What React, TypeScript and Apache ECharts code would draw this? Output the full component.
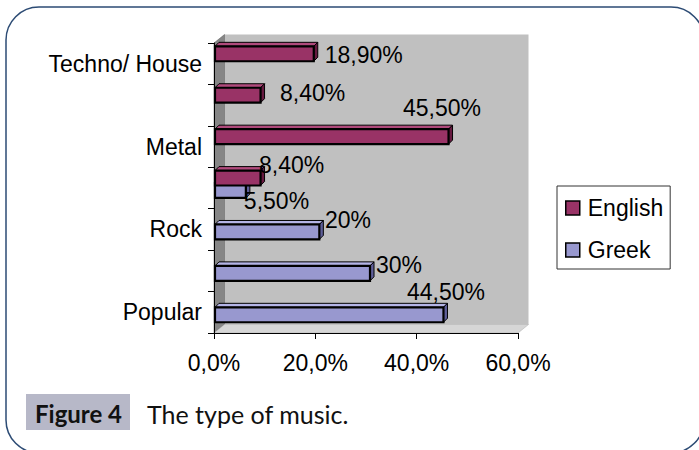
import React, { useEffect, useRef } from "react";
import * as echarts from "echarts";

// ---- data ----
const CATEGORIES = ["Popular", "Entechno", "Rock", "Hip Hop", "Metal", "Pop", "Techno/ House"];
const GREEK = [44.5, 30, 20, 5.5, null, null, null];
const ENGLISH = [null, null, null, 8.4, 45.5, 8.4, 18.9];
const X_TICKS = [0, 20, 40, 60];

// ---- layout / style ----
const G_LEFT = 214;
const G_TOP = 43;
const G_W = 304;
const G_H = 290;
const WALL_DX = 10.5;
const WALL_DY = -8.5;
const BAR_DEPTH = 4;
const COLORS = { Greek: "#9898cf", English: "#993366" };
const TOPS = { Greek: "#b4b4e6", English: "#b04a7c" };
const SIDES = { Greek: "#5e5e99", English: "#66193f" };
// top of bar relative to band centre (fraction of band), bar height fraction
const BAR_TOP_FRAC = { Greek: -0.12, English: -0.42 };
const BAR_H_FRAC = 0.36;
// label offsets [dx from bar end, dy from band centre]
const GREEK_LABEL_OFFSETS = [[-36.5, -20], [6, -6], [5.7, -9.5], [-2, 12.5], [0, 0], [0, 0], [0, 0]];
const ENGLISH_LABEL_OFFSETS = [[0, 0], [0, 0], [0, 0], [-1.6, -23.5], [-45.5, -38.5], [19.5, -12], [11, -8.5]];
const CHART_FONT = "Liberation Sans";

function fmtLabel(v: number) {
  if (Number.isInteger(v)) return `${v}%`;
  return v.toFixed(2).replace(".", ",") + "%";
}

function makeSeries(name: "Greek" | "English", values: (number | null)[], offsets: number[][]) {
  const data: number[][] = [];
  values.forEach((v, i) => {
    if (v !== null) data.push([i, v]);
  });
  return {
    type: "custom",
    name,
    clip: false,
    encode: { x: 1, y: 0 },
    itemStyle: { color: COLORS[name], borderColor: "#000", borderWidth: 1.5 },
    data,
    z: 5,
    renderItem: (params: any, api: any) => {
      const cat = api.value(0);
      const v = api.value(1);
      const p0 = api.coord([0, cat]);
      const p1 = api.coord([v, cat]);
      const band = api.size([0, 1])[1];
      const c = p0[1];
      const top = c + BAR_TOP_FRAC[name] * band;
      const h = BAR_H_FRAC * band;
      const x0 = p0[0] + 1;
      const x1 = p1[0] + 4;
      const D = BAR_DEPTH;
      const off = offsets[cat] || [0, 0];
      return {
        type: "group",
        children: [
          {
            type: "polygon",
            shape: { points: [[x0, top], [x0 + D, top - D], [x1 + D, top - D], [x1, top]] },
            style: { fill: TOPS[name], stroke: "#000", lineWidth: 1 },
          },
          {
            type: "polygon",
            shape: { points: [[x1, top], [x1 + D, top - D], [x1 + D, top + h - D], [x1, top + h]] },
            style: { fill: SIDES[name], stroke: "#000", lineWidth: 1 },
          },
          {
            type: "rect",
            shape: { x: x0, y: top, width: x1 - x0, height: h },
            style: { fill: COLORS[name], stroke: "#000", lineWidth: 2.2 },
          },
          {
            type: "text",
            x: x1 + off[0],
            y: c + off[1],
            style: {
              text: fmtLabel(v),
              fill: "#000",
              fontSize: 23,
              fontFamily: CHART_FONT,
              textAlign: "left",
              textVerticalAlign: "middle",
            },
          },
        ],
      };
    },
  };
}

export default function App() {
  const ref = useRef<HTMLDivElement>(null);
  useEffect(() => {
    if (!ref.current) return;
    const chart = echarts.init(ref.current, undefined, { renderer: "svg" });
    const R = G_LEFT + G_W;
    const B = G_TOP + G_H;
    const option: any = {
      animation: false,
      backgroundColor: "#fff",
      textStyle: { fontFamily: CHART_FONT },
      grid: { left: G_LEFT, top: G_TOP, width: G_W, height: G_H, containLabel: false },
      xAxis: {
        type: "value",
        min: X_TICKS[0],
        max: X_TICKS[X_TICKS.length - 1],
        interval: X_TICKS[1] - X_TICKS[0],
        axisLine: { show: true, lineStyle: { color: "#000", width: 1 } },
        axisTick: { show: true, length: 6, lineStyle: { color: "#000" } },
        splitLine: { show: false },
        axisLabel: {
          color: "#000",
          fontSize: 23,
          fontFamily: CHART_FONT,
          margin: 18,
          formatter: (v: number) => v.toFixed(1).replace(".", ",") + "%",
        },
      },
      yAxis: {
        type: "category",
        data: CATEGORIES,
        axisLine: { show: true, lineStyle: { color: "#000", width: 1 } },
        axisTick: { show: true, length: 6, interval: 0, lineStyle: { color: "#000" } },
        axisLabel: { color: "#000", fontSize: 23, fontFamily: CHART_FONT, margin: 12, interval: 1 },
      },
      legend: {
        data: ["English", "Greek"],
        orient: "vertical",
        left: 557,
        top: 186,
        padding: [8, 7, 5, 8],
        itemGap: 14,
        itemWidth: 14,
        itemHeight: 14,
        icon: "rect",
        backgroundColor: "#fff",
        borderColor: "#333",
        borderWidth: 1,
        borderRadius: 0,
        itemStyle: { borderColor: "#000", borderWidth: 1.5 },
        textStyle: { color: "#000", fontSize: 23, fontFamily: CHART_FONT, lineHeight: 28, padding: [0, 0, 0, 3] },
      },
      graphic: [
        {
          type: "rect",
          z: -10,
          shape: { x: 6, y: 7, width: 698, height: 446, r: 33 },
          style: { fill: "#fff", stroke: "#2c4b74", lineWidth: 1.5 },
        },
        {
          type: "rect",
          z: -5,
          shape: { x: G_LEFT + WALL_DX, y: G_TOP + WALL_DY, width: G_W, height: G_H },
          style: { fill: "#c0c0c0" },
        },
        {
          type: "polygon",
          z: -5,
          shape: {
            points: [
              [G_LEFT, G_TOP],
              [G_LEFT + WALL_DX, G_TOP + WALL_DY],
              [G_LEFT + WALL_DX, B + WALL_DY],
              [G_LEFT, B],
            ],
          },
          style: { fill: "#868686", stroke: "#555", lineWidth: 0.5 },
        },
        {
          type: "polygon",
          z: -5,
          shape: {
            points: [
              [G_LEFT, B],
              [G_LEFT + WALL_DX, B + WALL_DY],
              [R + WALL_DX, B + WALL_DY],
              [R, B],
            ],
          },
          style: { fill: "#d6d6d6", stroke: "#aaa", lineWidth: 0.5 },
        },
        {
          type: "rect",
          z: -5,
          shape: { x: 26, y: 394, width: 104, height: 36 },
          style: { fill: "#b7b8c8" },
        },
        {
          type: "text",
          z: 10,
          x: 35,
          y: 413,
          style: {
            text: "Figure 4",
            fontSize: 24,
            fontWeight: "bold",
            fontFamily: "Lato",
            fill: "#111",
            textAlign: "left",
            textVerticalAlign: "middle",
          },
        },
        {
          type: "text",
          z: 10,
          x: 147,
          y: 414,
          style: {
            text: "The type of music.",
            fontSize: 25,
            fontFamily: "Lato",
            fill: "#111",
            textAlign: "left",
            textVerticalAlign: "middle",
          },
        },
      ],
      series: [
        makeSeries("Greek", GREEK, GREEK_LABEL_OFFSETS),
        makeSeries("English", ENGLISH, ENGLISH_LABEL_OFFSETS),
      ],
    };
    chart.setOption(option);
    return () => chart.dispose();
  }, []);
  return (
    <div
      ref={ref}
      style={{ position: "absolute", left: 0, top: 0, width: 699, height: 450, background: "#fff" }}
    />
  );
}
